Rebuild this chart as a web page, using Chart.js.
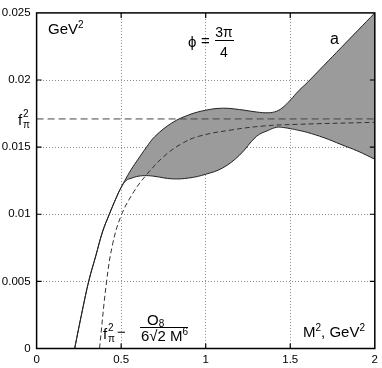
<!DOCTYPE html>
<html>
<head>
<meta charset="utf-8">
<script src="https://cdn.jsdelivr.net/npm/chart.js@4"></script>
<style>
  html, body { margin: 0; padding: 0; background: #fff; }
</style>
</head>
<body>
<canvas id="chart" width="382" height="368"></canvas>
<script>
// axis ticks
const xTicks = [0, 0.5, 1, 1.5, 2];
const yTicks = [0, 0.005, 0.01, 0.015, 0.02, 0.025];

// shaded band (upper / lower edges)
const bandX     = [0.225, 0.27, 0.31, 0.35, 0.39, 0.43, 0.47, 0.5, 0.53, 0.56, 0.6, 0.65, 0.7, 0.8, 0.9, 1.0, 1.1, 1.2, 1.3, 1.37, 1.42, 1.46, 1.5, 1.55, 1.6, 1.7, 1.8, 1.9, 2.0];
const bandUpper = [0, 0.0028, 0.0051, 0.0069, 0.0087, 0.0100, 0.0112, 0.0120, 0.0127, 0.01335, 0.0141, 0.0150, 0.0158, 0.0168, 0.0174, 0.01775, 0.0179, 0.0178, 0.01762, 0.01756, 0.01768, 0.0180, 0.0185, 0.0192, 0.0198, 0.0211, 0.0224, 0.0237, 0.025];
const bandLower = [0, 0.0028, 0.0051, 0.0069, 0.0087, 0.0100, 0.0112, 0.0120, 0.01252, 0.01268, 0.01283, 0.01288, 0.01282, 0.01264, 0.0127, 0.01298, 0.01345, 0.0144, 0.0158, 0.01625, 0.01648, 0.01646, 0.01638, 0.01625, 0.0161, 0.0157, 0.0152, 0.0147, 0.0141];

// dashed curve f_pi^2 - O8/(6 sqrt2 M^6)
const opeX = [0.372, 0.414, 0.45, 0.5, 0.576, 0.654, 0.752, 0.85, 0.957, 1.152, 1.347, 1.542, 2.0];
const opeY = [0, 0.005, 0.0078, 0.0099, 0.0117, 0.0130, 0.0143, 0.0152, 0.0158, 0.01628, 0.01658, 0.0167, 0.01685];

// f_pi^2 level
const fpi2 = 0.0171;

const FONT = "'Liberation Sans', Arial, Helvetica, sans-serif";
const pts = (xs, ys) => xs.map((x, i) => ({ x: x, y: ys[i] }));

function runs(ctx, x, y, parts) {
    // parts: [text, size, dy]
    parts.forEach(p => {
        ctx.font = p[1] + 'px ' + FONT;
        ctx.fillText(p[0], x, y + (p[2] || 0));
        x += ctx.measureText(p[0]).width;
    });
    return x;
}

const framePlugin = {
    id: 'frame',
    afterDraw(chart) {
        const ctx = chart.ctx;
        const a = chart.chartArea;
        const xs = chart.scales.x, ys = chart.scales.y;
        ctx.save();
        ctx.strokeStyle = '#000';
        ctx.lineWidth = 1.5;
        ctx.strokeRect(a.left, a.top, a.right - a.left, a.bottom - a.top);
        ctx.lineWidth = 1.2;
        ctx.beginPath();
        xTicks.slice(1, -1).forEach(v => {
            const px = xs.getPixelForValue(v);
            ctx.moveTo(px, a.bottom); ctx.lineTo(px, a.bottom - 5);
            ctx.moveTo(px, a.top); ctx.lineTo(px, a.top + 5);
        });
        yTicks.slice(1, -1).forEach(v => {
            const py = ys.getPixelForValue(v);
            ctx.moveTo(a.left, py); ctx.lineTo(a.left + 5, py);
            ctx.moveTo(a.right, py); ctx.lineTo(a.right - 5, py);
        });
        ctx.stroke();

        ctx.fillStyle = '#000';
        ctx.textBaseline = 'alphabetic';
        ctx.textAlign = 'left';

        // GeV^2
        runs(ctx, 48, 34, [['GeV', 15], ['2', 10, -6]]);

        // phi = 3pi/4
        ctx.font = '15px ' + FONT;
        ctx.fillText('\u03d5', 188, 47);
        ctx.fillText('=', 201, 46);
        ctx.textAlign = 'center';
        ctx.font = '14px ' + FONT;
        ctx.fillText('3\u03c0', 224, 37);
        ctx.fillText('4', 224, 57);
        ctx.fillRect(215, 40, 19, 1);
        ctx.textAlign = 'left';

        // a
        ctx.font = '16px ' + FONT;
        ctx.fillText('a', 330, 44);

        // f_pi^2 on the left
        const fy = ys.getPixelForValue(fpi2);
        ctx.font = '15px ' + FONT;
        ctx.fillText('f', 18, fy + 6);
        ctx.font = '10px ' + FONT;
        ctx.fillText('2', 23, fy - 2);
        ctx.fillText('\u03c0', 23, fy + 9);

        // formula near the bottom
        ctx.font = '15px ' + FONT;
        ctx.fillText('f', 103, 339);
        ctx.font = '10px ' + FONT;
        ctx.fillText('2', 108, 331);
        ctx.fillText('\u03c0', 108, 342);
        ctx.font = '15px ' + FONT;
        ctx.fillText('\u2212', 117, 337);
        runs(ctx, 147, 325, [['O', 15], ['8', 10, 2]]);
        ctx.fillRect(140, 327, 48, 1);
        runs(ctx, 141, 341, [['6\u221a2 M', 15], ['6', 10, -6]]);

        // M^2, GeV^2
        runs(ctx, 303, 337, [['M', 15], ['2', 10, -6], [', GeV', 15], ['2', 10, -6]]);

        ctx.restore();
    }
};

const gridColor = c => (c.tick && (c.tick.value === 0 || Math.abs(c.tick.value - c.scale.max) < 1e-9)) ? 'rgba(0,0,0,0)' : '#8a8a8a';

new Chart(document.getElementById('chart'), {
    type: 'line',
    data: {
        datasets: [
            {
                data: pts(opeX, opeY),
                borderColor: '#333', borderWidth: 1, borderDash: [5, 3],
                pointRadius: 0, fill: false, tension: 0.4
            },
            {
                data: [{ x: 0, y: fpi2 }, { x: 2, y: fpi2 }],
                borderColor: '#444', borderWidth: 1, borderDash: [7, 4],
                pointRadius: 0, fill: false
            },
            {
                data: pts(bandX, bandUpper),
                borderColor: '#222', borderWidth: 1,
                backgroundColor: '#9b9b9b',
                pointRadius: 0, fill: '+1', tension: 0.4
            },
            {
                data: pts(bandX, bandLower),
                borderColor: '#222', borderWidth: 1,
                pointRadius: 0, fill: false, tension: 0.4
            }
        ]
    },
    options: {
        responsive: false,
        animation: false,
        layout: { padding: { top: 8, right: 4.3, left: 0, bottom: 0 } },
        plugins: {
            legend: { display: false },
            tooltip: { enabled: false },
            filler: { drawTime: 'beforeDatasetsDraw' }
        },
        scales: {
            x: {
                type: 'linear', min: 0, max: 2,
                afterBuildTicks: s => { s.ticks = xTicks.map(v => ({ value: v })); },
                afterFit: s => { s.height = 19.5; },
                ticks: {
                    padding: 4, color: '#000', maxRotation: 0,
                    font: { family: FONT, size: 11.5 },
                    callback: v => String(v)
                },
                grid: { drawTicks: false, color: gridColor, lineWidth: 1 },
                border: { display: false, dash: [1, 2] }
            },
            y: {
                type: 'linear', min: 0, max: 0.025,
                afterBuildTicks: s => { s.ticks = yTicks.map(v => ({ value: v })); },
                afterFit: s => { s.width = 36.6; },
                ticks: {
                    padding: 6, color: '#000',
                    font: { family: FONT, size: 11.5 },
                    callback: v => String(parseFloat(v.toFixed(3)))
                },
                grid: { drawTicks: false, color: gridColor, lineWidth: 1 },
                border: { display: false, dash: [1, 2] }
            }
        }
    },
    plugins: [framePlugin]
});
</script>
</body>
</html>
